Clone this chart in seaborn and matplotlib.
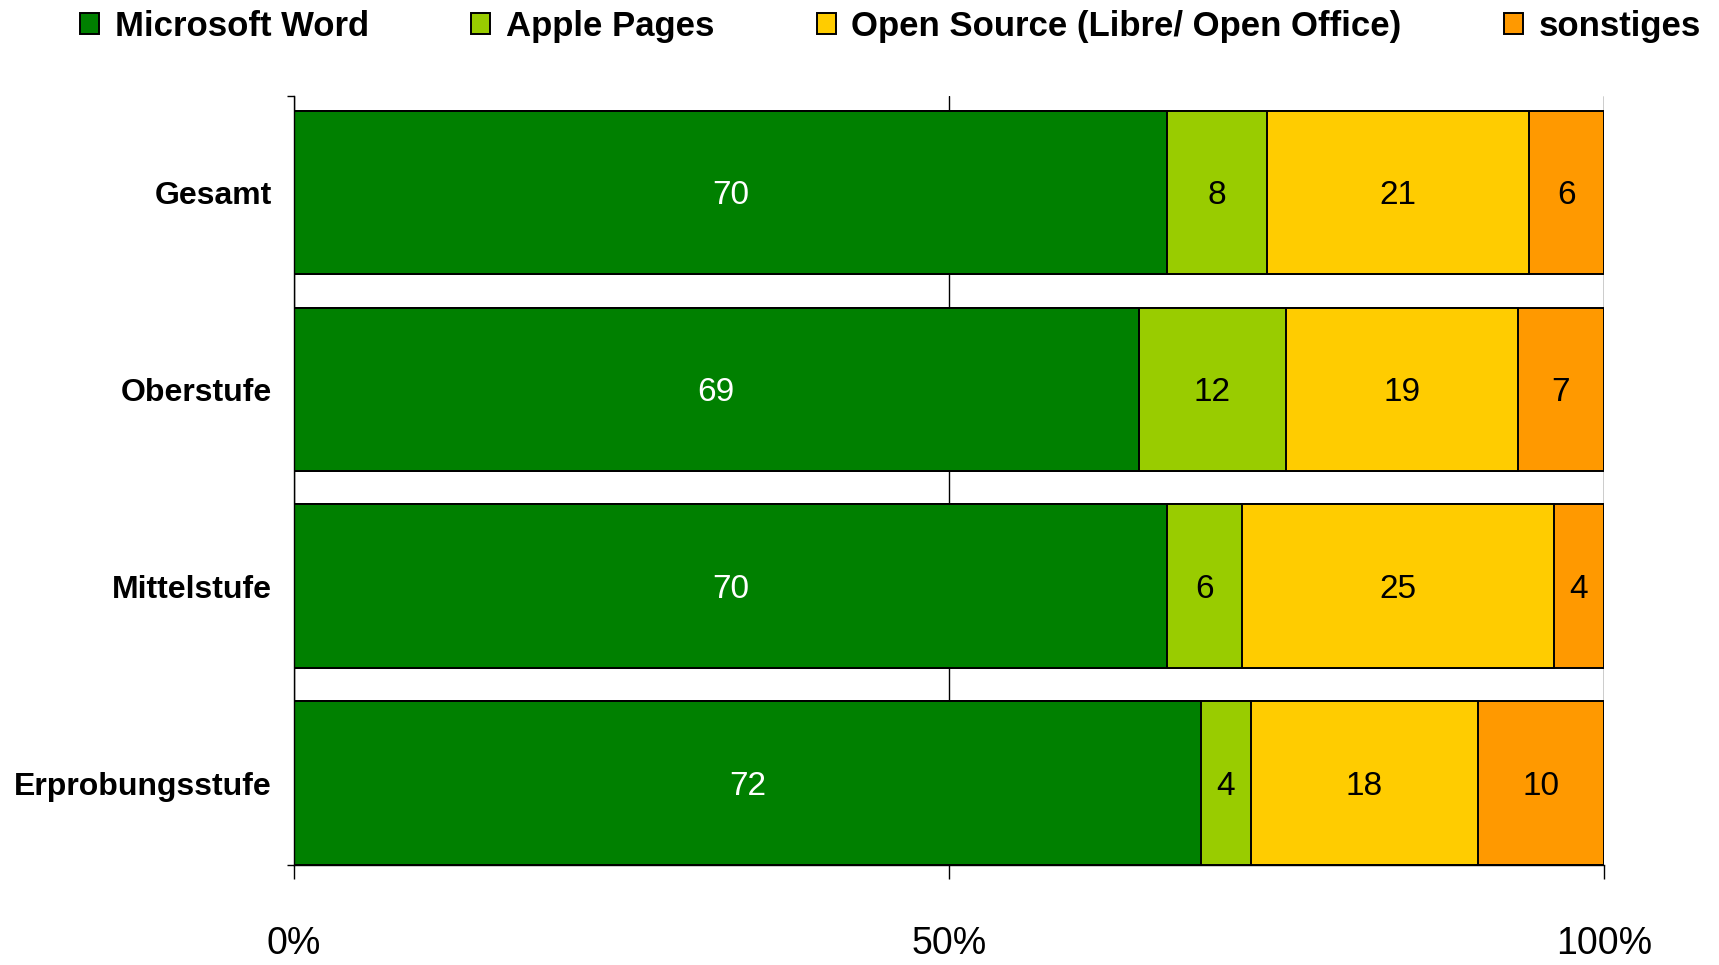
import matplotlib.pyplot as plt
import numpy as np
import pandas as pd
import seaborn as sns
from matplotlib.patches import Patch
from matplotlib.ticker import FixedLocator

groups = ["Gesamt", "Oberstufe", "Mittelstufe", "Erprobungsstufe"]
series = ["Microsoft Word", "Apple Pages", "Open Source (Libre/ Open Office)", "sonstiges"]
word = [70, 69, 70, 72]
pages = [8, 12, 6, 4]
open_source = [21, 19, 25, 18]
other = [6, 7, 4, 10]
colors = ["#008000", "#99CC00", "#FFCC00", "#FF9900"]
x_ticks = [0, 50, 100]
x_ticklabels = ["0%", "50%", "100%"]

sns.set_theme(style="white")
plt.rcParams["font.family"] = ["Liberation Sans", "DejaVu Sans"]
plt.rcParams["text.color"] = "black"
plt.rcParams["xtick.color"] = "black"
plt.rcParams["ytick.color"] = "black"
plt.rcParams["axes.labelcolor"] = "black"

df = pd.DataFrame({"group": groups, series[0]: word, series[1]: pages,
                   series[2]: open_source, series[3]: other})
counts = df[series]
# bars are stacked to 100% of each row total
pct = counts.div(counts.sum(axis=1), axis=0) * 100
cum = pct.cumsum(axis=1)

fig = plt.figure(figsize=(17.19, 9.65), dpi=100)
ax = fig.add_axes([0.171, 0.1036, 0.762, 0.797])

# draw cumulative totals from the back so each segment sits on top
for i in range(len(series) - 1, -1, -1):
    sns.barplot(x=cum[series[i]], y=df["group"], orient="y", color=colors[i],
                saturation=1, edgecolor="black", linewidth=1.4, width=0.83,
                ax=ax, zorder=2)

for j in range(len(groups)):
    for i, s in enumerate(series):
        xc = cum[s].iloc[j] - pct[s].iloc[j] / 2
        ax.text(xc, j, str(counts[s].iloc[j]), ha="center", va="center_baseline",
                fontsize=24, color="white" if i == 0 else "black", zorder=3)

ax.set_xlim(0, 100)
ax.set_ylim(3.416, -0.49)
ax.set_xticks(x_ticks, x_ticklabels)
ax.set_yticks(range(len(groups)), groups, fontweight="bold")
ax.set_xlabel("")
ax.set_ylabel("")
ax.xaxis.grid(True, color="black", linewidth=1.0)
ax.yaxis.grid(False)
ax.set_axisbelow(True)

for side in ["top", "right"]:
    ax.spines[side].set_visible(False)
for side in ["left", "bottom"]:
    ax.spines[side].set_color("black")
    ax.spines[side].set_linewidth(1.0)

ax.tick_params(axis="x", which="major", direction="out", length=10, width=1,
               color="black", labelcolor="black", labelsize=27, pad=34, bottom=True)
ax.tick_params(axis="y", which="major", length=0, labelsize=23, pad=16,
               labelcolor="black")
ax.yaxis.set_minor_locator(FixedLocator([-0.49, 3.416]))
ax.tick_params(axis="y", which="minor", direction="out", length=5, width=1,
               color="black", left=True)

handles = [Patch(facecolor=c, edgecolor="black", linewidth=1.4) for c in colors]
fig.legend(handles, series, loc="upper center", bbox_to_anchor=(0.518, 1.008),
           ncol=4, frameon=False, prop={"weight": "bold", "size": 25},
           handlelength=0.55, handleheight=0.55, handletextpad=0.45,
           columnspacing=2.95, borderaxespad=0.1)

fig.savefig("out.png", dpi=100)
